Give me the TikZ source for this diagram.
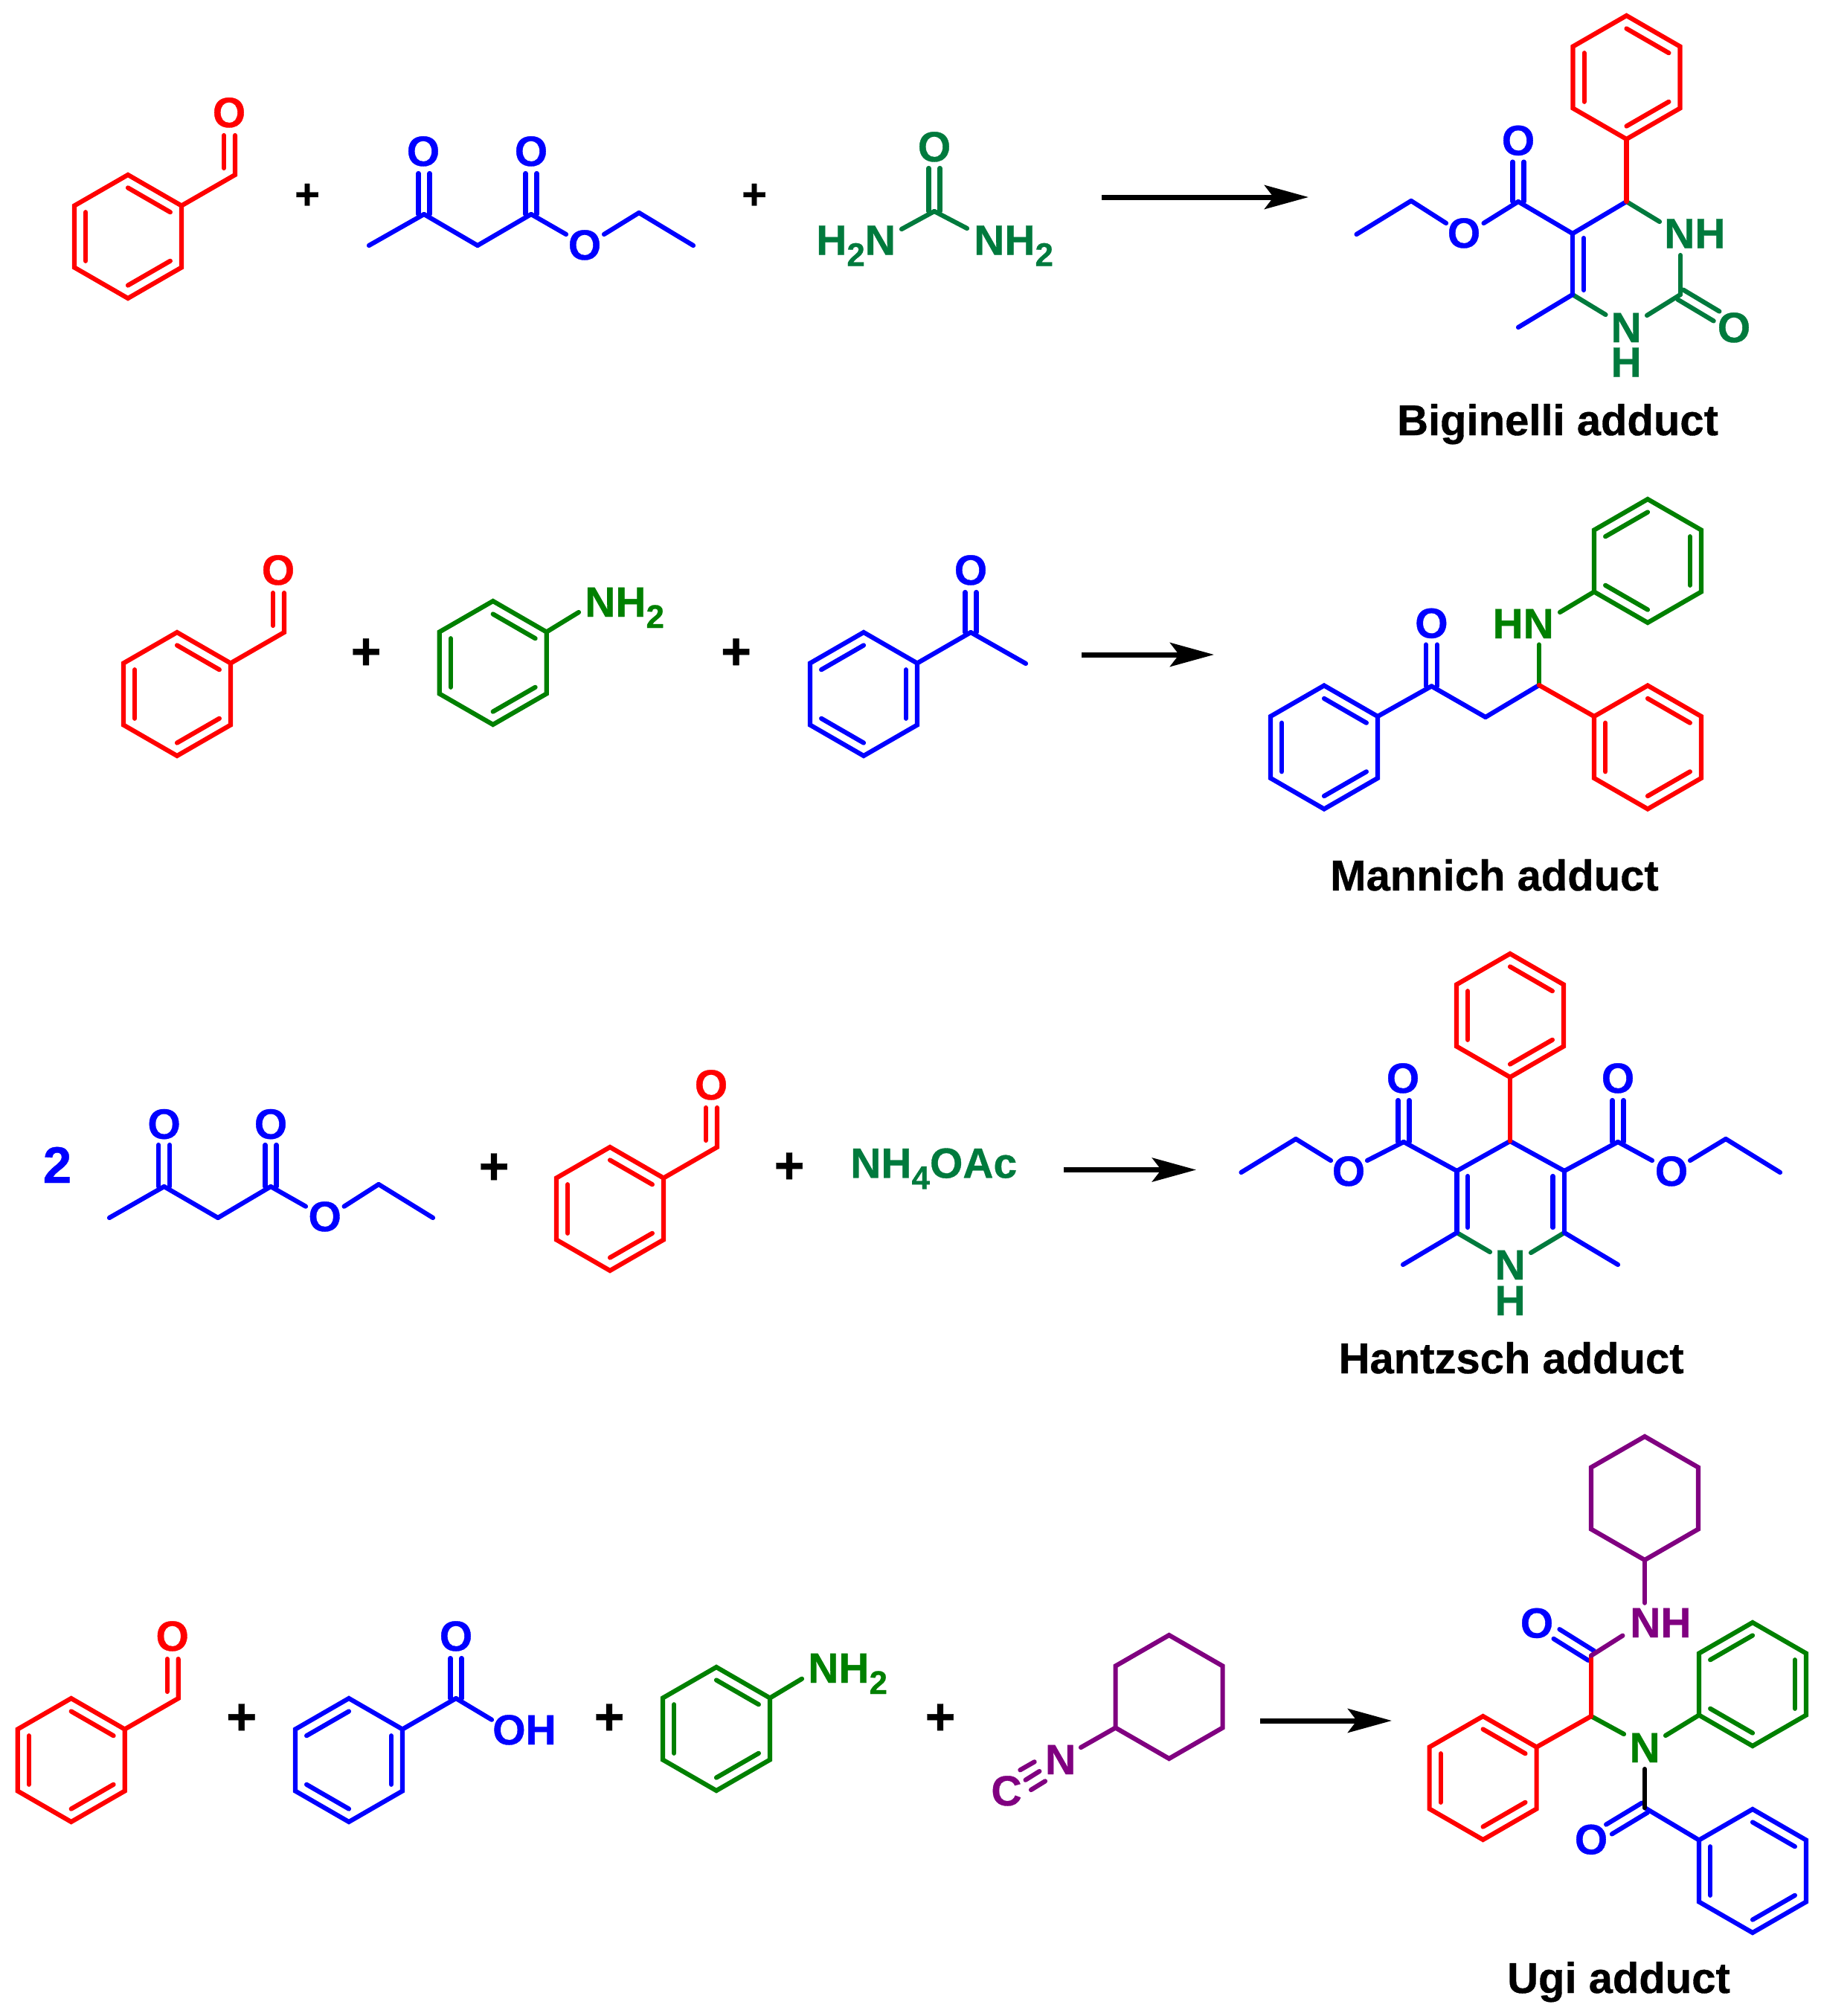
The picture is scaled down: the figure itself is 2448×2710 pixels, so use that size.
\documentclass[tikz,border=0pt]{standalone}
\usepackage{fontspec}
\setmainfont{Liberation Sans}[BoldFeatures={FakeBold=0.6}]
\usetikzlibrary{calc,arrows.meta}
\definecolor{cred}{RGB}{255,0,0}
\definecolor{cblue}{RGB}{0,0,255}
\definecolor{cgreen}{RGB}{0,122,61}
\definecolor{dgreen}{RGB}{0,128,0}
\definecolor{cpurple}{RGB}{128,0,128}
\tikzset{
  bond/.style={line width=6.2pt,line cap=round,line join=miter},
  rarrow/.style={line width=7pt,-{Stealth[length=59pt,width=32pt,inset=12pt]}},
  atom/.style={font=\fontsize{57}{57}\selectfont\bfseries,inner sep=0pt,text height=40pt,text depth=0pt,anchor=center},
  lab/.style={font=\fontsize{57}{57}\selectfont\bfseries,inner sep=0pt,anchor=base west},
  titlelab/.style={font=\fontsize{58}{58}\selectfont\bfseries,inner sep=0pt,anchor=base,text=black},
  plusA/.style={font=\fontsize{58}{58}\selectfont\bfseries,inner sep=0pt,text=black,yshift=-4pt},
  plusB/.style={font=\fontsize{70}{70}\selectfont\bfseries,inner sep=0pt,text=black,yshift=-5pt},
}
\newcommand{\subs}[1]{\raisebox{-15pt}{\fontsize{44}{44}\selectfont #1}}
\newcommand{\pts}[1]{\foreach \n/\x/\y in {#1}{\coordinate (\n) at (\x,\y);}}
\newcommand{\bonds}[2]{\foreach \a/\b in {#2}{\draw[bond,#1] (\a)--(\b);}}
\newcommand{\dbl}[3]{%
  \draw[bond,#1] ($(#2)!7.5pt!90:(#3)$) -- ($(#3)!7.5pt!-90:(#2)$);
  \draw[bond,#1] ($(#2)!7.5pt!-90:(#3)$) -- ($(#3)!7.5pt!90:(#2)$);}
\newcommand{\hexa}[4]{% name cx cy colour
  \coordinate (#1c) at (#2,#3);
  \coordinate (#11) at (#2,#3-83);
  \coordinate (#12) at (#2+72,#3-41.5);
  \coordinate (#13) at (#2+72,#3+41.5);
  \coordinate (#14) at (#2,#3+83);
  \coordinate (#15) at (#2-72,#3+41.5);
  \coordinate (#16) at (#2-72,#3-41.5);
  \draw[bond,#4] (#11)--(#12)--(#13)--(#14)--(#15)--(#16)--cycle;}
\newcommand{\inn}[4]{\draw[bond,#4] ($(#1#2)!.21!(#1c)$) -- ($(#1#3)!.21!(#1c)$);}
\newcommand{\benzA}[4]{\hexa{#1}{#2}{#3}{#4}\inn{#1}{1}{2}{#4}\inn{#1}{3}{4}{#4}\inn{#1}{5}{6}{#4}}
\newcommand{\benzB}[4]{\hexa{#1}{#2}{#3}{#4}\inn{#1}{2}{3}{#4}\inn{#1}{4}{5}{#4}\inn{#1}{6}{1}{#4}}
\newcommand{\atm}[5]{\node[atom,text=#1] (#2) at (#3,#4) {#5};}
\newcommand{\aldehyde}[3]{%
  \benzA{#1}{#2}{#3}{cred}
  \coordinate (#1C) at (#2+144,#3-83);
  \coordinate (#1T) at (#2+144,#3-136);
  \coordinate (#1Ia) at (#2+129,#3-92);
  \coordinate (#1Ib) at (#2+129,#3-136);
  \draw[bond,cred] (#12)--(#1C)--(#1T);
  \draw[bond,cred] (#1Ia)--(#1Ib);
  \atm{cred}{#1O}{#2+136}{#3-167}{O}}
\begin{document}
\begin{tikzpicture}[x=1pt,y=-1pt]
\useasboundingbox (0,0) rectangle (2448,2710);
% ---------- row 1 ----------
\aldehyde{aa}{172}{318}
\node[plusA] (p11) at (413,260) {+};
\pts{bMe/496/330,bCa/570/288,bOa/570/233,bCH/642/330,bCb/714/288,bOb/714/233,bEa/761/315,bEb/812/315,bEc/859/286,bEd/932/330}
\bonds{cblue}{bMe/bCa,bCa/bCH,bCH/bCb,bCb/bEa,bEb/bEc,bEc/bEd}
\dbl{cblue}{bCa}{bOa}
\dbl{cblue}{bCb}{bOb}
\atm{cblue}{bO1}{569}{203}{O}
\atm{cblue}{bO2}{714}{203}{O}
\atm{cblue}{bO3}{786}{329}{O}
\node[plusA] (p12) at (1014,260) {+};
\pts{uC/1256/284,uOe/1256/226,uL/1212/308,uR/1300/307}
\bonds{cgreen}{uC/uL,uC/uR}
\dbl{cgreen}{uC}{uOe}
\atm{cgreen}{uO}{1256}{197}{O}
\node[lab,text=cgreen] (uN1) at (1097,342.5) {H\subs{2}N};
\node[lab,text=cgreen] (uN2) at (1309,342.5) {NH\subs{2}};
\pts{ra/1481/265,rb/1759/265}
\draw[rarrow] (ra)--(rb);
% product 1
\pts{pC4/2186.5/271,pC5/2114/314,pC6/2114/396,pIa/2129/320,pIb/2129/390,pEC/2041/271,pEO/2041/217.5,pEa/1994.5/300,pEb/1944/300,pEc/1897/270,pEd/1823.5/315,pMe/2041/440,pNa/2158.5/423,pNb/2214/424,pCu/2259/396,pCO/2307.5/425,pNc/2231/298,pNd/2259/343}
\bonds{cgreen}{pC4/pNc,pNd/pCu,pC6/pNa,pCu/pNb}
\dbl{cgreen}{pCu}{pCO}
\benzA{pr}{2186.5}{104}{cred}
\bonds{cblue}{pC4/pC5,pC5/pC6,pIa/pIb,pC5/pEC,pEC/pEa,pEb/pEc,pEc/pEd,pC6/pMe}
\dbl{cblue}{pEC}{pEO}
\bonds{cred}{pr4/pC4}
\atm{cblue}{pO1}{2041}{188.5}{O}
\atm{cblue}{pO2}{1968}{313}{O}
\node[lab,text=cgreen] (pNH) at (2237,333.5) {NH};
\atm{cgreen}{pN}{2186}{440}{N}
\atm{cgreen}{pH}{2186}{486.5}{H}
\atm{cgreen}{pO3}{2331}{440}{O}
\node[titlelab] (tB) at (2094,585) {Biginelli adduct};
% ---------- row 2 ----------
\aldehyde{ab}{238}{933}
\node[plusB] (p21) at (492,874) {+};
\benzA{an}{662.7}{891}{dgreen}
\pts{anE/778/823}
\bonds{dgreen}{an2/anE}
\node[lab,text=dgreen] (anN) at (786,829) {NH\subs{2}};
\node[plusB] (p22) at (989.5,874) {+};
\benzB{ac}{1161}{933}{cblue}
\pts{acC/1305/850,acT/1305/796,acM/1379/892}
\bonds{cblue}{ac2/acC,acC/acM}
\dbl{cblue}{acC}{acT}
\atm{cblue}{acO}{1305}{766}{O}
\pts{rc/1454/880,rd/1632/880}
\draw[rarrow] (rc)--(rd);
% product 2
\benzA{ma}{1780}{1004.5}{cblue}
\benzB{mb}{2215}{754}{dgreen}
\benzA{mc}{2215}{1004.5}{cred}
\pts{mC/1924.4/922.4,mT/1924.4/866.5,mH/1997/964,mN/2069/921,mU/2069/866.5,mV/2097/823}
\bonds{cblue}{ma2/mC,mC/mH,mH/mN}
\dbl{cblue}{mC}{mT}
\bonds{dgreen}{mN/mU,mV/mb5}
\bonds{cred}{mN/mc6}
\atm{cblue}{mO}{1924.4}{837.5}{O}
\node[lab,text=dgreen,anchor=base east] (mHN) at (2089,858) {HN};
\node[titlelab] (tM) at (2009,1197) {Mannich adduct};
% ---------- row 3 ----------
\node[font=\fontsize{69}{69}\selectfont\bfseries,inner sep=0pt,anchor=base,text=cblue] (two) at (77,1590) {2};
\pts{hMe/147/1637,hCa/220.6/1595,hOa/220.6/1539,hCH/293/1637,hCb/364/1595,hOb/364/1539,hEa/411/1621.7,hEb/462.6/1621.7,hEc/509/1592,hEd/582/1637}
\bonds{cblue}{hMe/hCa,hCa/hCH,hCH/hCb,hCb/hEa,hEb/hEc,hEc/hEd}
\dbl{cblue}{hCa}{hOa}
\dbl{cblue}{hCb}{hOb}
\atm{cblue}{hO1}{220.6}{1510.7}{O}
\atm{cblue}{hO2}{364}{1510.7}{O}
\atm{cblue}{hO3}{436.7}{1635}{O}
\node[plusB] (p31) at (664,1566) {+};
\aldehyde{ah}{820}{1625}
\node[plusB] (p32) at (1061,1565) {+};
\node[lab,text=cgreen] (nh4) at (1143,1583.3) {NH\subs{4}OAc};
\pts{re/1430/1572.5,rf/1608/1572.5}
\draw[rarrow] (re)--(rf);
% product 3
\benzA{hr}{2030}{1365}{cred}
\pts{qC4/2030/1534,qC3/1958.5/1574,qC2/1958.5/1657,qC5/2103/1574,qC6/2103/1657,qMa/1886/1700,qMb/2175/1700,qNa/2003/1683,qNb/2058/1684,qIa/1973/1581,qIb/1973/1650,qIc/2087.5/1581,qId/2087.5/1650,qLC/1887/1535,qLT/1887/1479,qLa/1838/1560,qLb/1789/1560,qLc/1742/1531,qLd/1668.5/1576,qRC/2175/1535,qRT/2175/1479,qRa/2221/1560,qRb/2272/1560,qRc/2320/1531,qRd/2393/1576}
\bonds{cgreen}{qC2/qNa,qC6/qNb}
\bonds{cblue}{qC4/qC3,qC4/qC5,qC3/qC2,qC5/qC6,qIa/qIb,qIc/qId,qC2/qMa,qC6/qMb,qC3/qLC,qLC/qLa,qLb/qLc,qLc/qLd,qC5/qRC,qRC/qRa,qRb/qRc,qRc/qRd}
\dbl{cblue}{qLC}{qLT}
\dbl{cblue}{qRC}{qRT}
\bonds{cred}{hr4/qC4}
\atm{cblue}{qO1}{1886}{1449}{O}
\atm{cblue}{qO2}{1813}{1574}{O}
\atm{cblue}{qO3}{2175}{1449}{O}
\atm{cblue}{qO4}{2247}{1574}{O}
\atm{cgreen}{qN}{2030}{1700}{N}
\atm{cgreen}{qH}{2030}{1748}{H}
\node[titlelab] (tH) at (2031.6,1846) {Hantzsch adduct};
% ---------- row 4 ----------
\aldehyde{au}{95.7}{2366}
\node[plusB] (p41) at (324.7,2306) {+};
\benzB{ba}{469}{2366}{cblue}
\pts{baC/613/2283,baT/613/2229,baE/661/2311.7}
\bonds{cblue}{ba2/baC,baC/baE}
\dbl{cblue}{baC}{baT}
\atm{cblue}{baO}{613}{2199}{O}
\node[lab,text=cblue] (baOH) at (662,2345) {OH};
\node[plusB] (p42) at (819,2306) {+};
\benzA{ag}{963}{2324}{dgreen}
\pts{agE/1078/2256.7}
\bonds{dgreen}{ag2/agE}
\node[lab,text=dgreen] (agN) at (1086,2262) {NH\subs{2}};
\node[plusB] (p43) at (1264,2306) {+};
\hexa{cy}{1571.6}{2281}{cpurple}
\pts{cyE/1453/2349,tra/1371.4/2379.3,trb/1390.6/2368.3,trc/1378.6/2392.7,trd/1397.3/2381,tre/1386/2406,trf/1405/2394.3}
\bonds{cpurple}{cy5/cyE,tra/trb,trc/trd,tre/trf}
\atm{cpurple}{cyN}{1425.6}{2365}{N}
\atm{cpurple}{cyC}{1353}{2407}{C}
\pts{rg/1694/2313,rh/1871/2313}
\draw[rarrow] (rg)--(rh);
% product 4
\hexa{ux}{2211}{2014}{cpurple}
\benzA{ur}{1993.6}{2390}{cred}
\benzB{ug}{2356}{2264}{dgreen}
\benzA{ub}{2356}{2515}{cblue}
\pts{vC/2139/2225.5,vO/2092.5/2196.5,vH/2139/2307,vNa/2211/2154.7,vNb/2181.4/2198.6,vNc/2183/2331,vNd/2239/2333,vNe/2211/2378,vD/2211/2430,vP/2163/2459}
\dbl{cblue}{vC}{vO}
\dbl{cblue}{vD}{vP}
\bonds{cblue}{vD/ub6}
\bonds{black}{vNe/vD}
\bonds{dgreen}{vH/vNc,vNd/ug5}
\bonds{cred}{vC/vH,vH/ur2}
\bonds{cpurple}{ux4/vNa,vC/vNb}
\atm{cblue}{vO1}{2066}{2181.5}{O}
\atm{cblue}{vO2}{2139}{2472.4}{O}
\node[lab,text=cpurple] (vNH) at (2191,2201) {NH};
\atm{dgreen}{vN}{2211}{2349}{N}
\node[titlelab] (tU) at (2176,2679) {Ugi adduct};
\end{tikzpicture}
\end{document}
